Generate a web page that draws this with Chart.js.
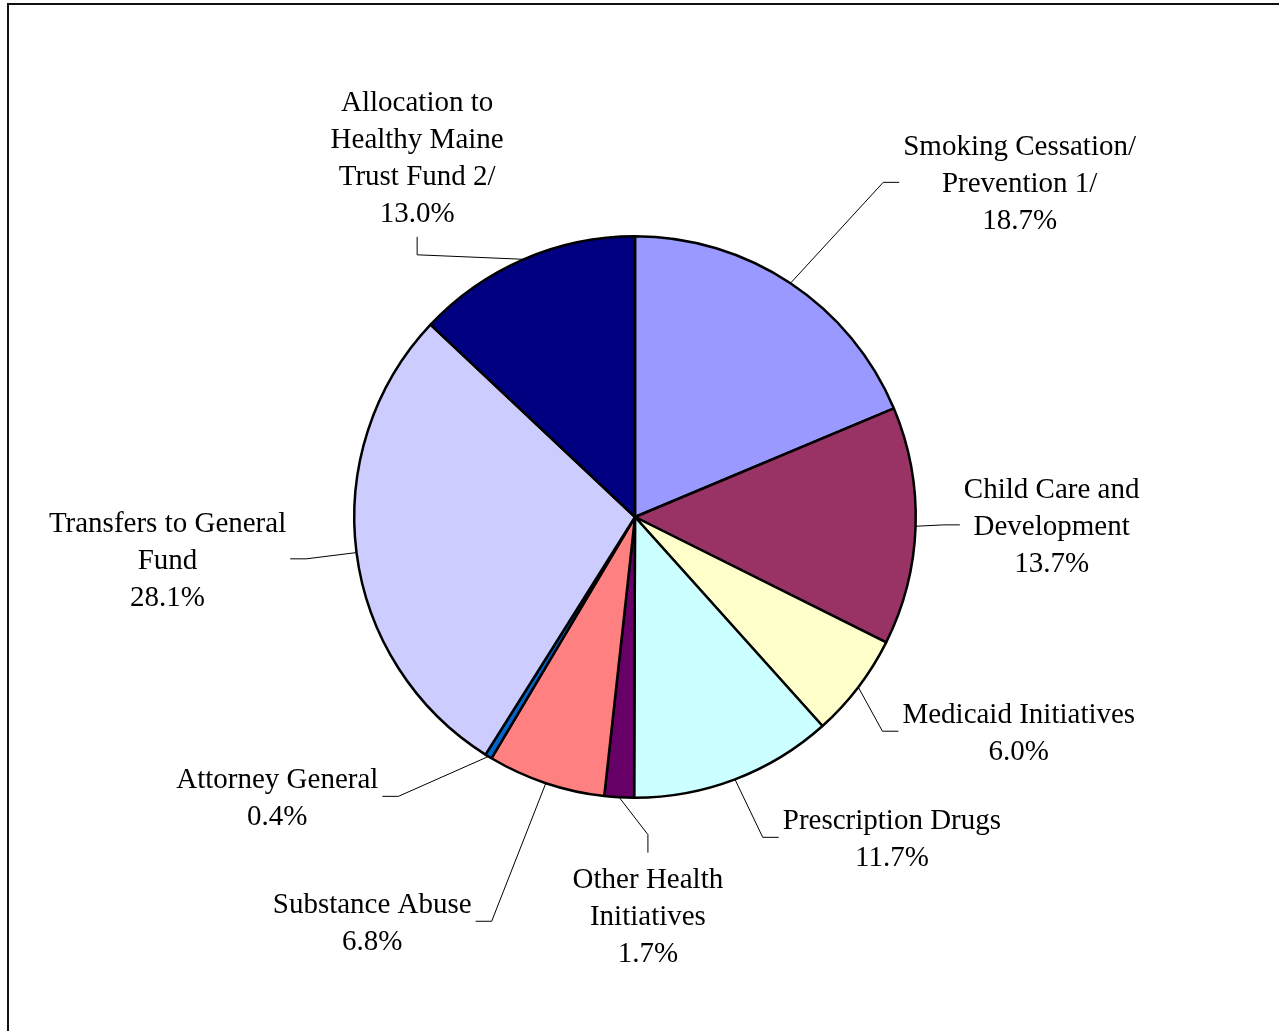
<!DOCTYPE html>
<html>
<head>
<meta charset="utf-8">
<script src="https://cdn.jsdelivr.net/npm/chart.js@4.4.0/dist/chart.umd.min.js"></script>
<style>
  html, body { margin: 0; padding: 0; background: #fff; overflow: hidden; }
  #wrap { position: relative; width: 1279px; height: 1031px; }
  #frame { position: absolute; left: 7px; top: 3px; width: 1400px; height: 1200px;
           border-left: 2px solid #111; border-top: 2px solid #111; pointer-events: none; }
  canvas { position: absolute; left: 0; top: 0; }
</style>
</head>
<body>
<div id="wrap">
  <canvas id="pieChart" width="1279" height="1031"></canvas>
  <div id="frame"></div>
</div>
<script>
// slices, clockwise from 12 o'clock
const categories = [
  ["Smoking Cessation/", "Prevention 1/"],
  ["Child Care and", "Development"],
  ["Medicaid Initiatives"],
  ["Prescription Drugs"],
  ["Other Health", "Initiatives"],
  ["Substance Abuse"],
  ["Attorney General"],
  ["Transfers to General", "Fund"],
  ["Allocation to", "Healthy Maine", "Trust Fund 2/"]
];
const shares = [18.7, 13.7, 6.0, 11.7, 1.7, 6.8, 0.4, 28.1, 13.0];
const sliceColors = ["#9999FF", "#993366", "#FFFFCC", "#CCFFFF", "#660066",
                     "#FF8080", "#0066CC", "#CCCCFF", "#000080"];

// label block centre, in pie radii from the pie centre, and which side the leader meets
const labelPos = [
  [1.370, -1.192, "left"],
  [1.484, 0.028, "left"],
  [1.367, 0.763, "left"],
  [0.915, 1.141, "left"],
  [0.046, 1.418, "top"],
  [-0.936, 1.440, "right"],
  [-1.274, 0.995, "right"],
  [-1.665, 0.149, "right"],
  [-0.776, -1.283, "bottom"]
];

const FONT = "29px 'Liberation Serif', 'Times New Roman', serif";
const LINE_H = 37;

const labelPlugin = {
  id: "outsideLabels",
  afterDraw(chart) {
    const c = chart.ctx;
    const arcs = chart.getDatasetMeta(0).data;
    c.save();
    c.font = FONT;
    c.fillStyle = "#000";
    c.strokeStyle = "#000";
    c.lineWidth = 1;
    c.textAlign = "center";
    c.textBaseline = "middle";

    arcs.forEach((arc, i) => {
      const p = arc.getProps(["x", "y", "startAngle", "endAngle", "outerRadius"], true);
      const R = p.outerRadius;
      const mid = (p.startAngle + p.endAngle) / 2;
      const ax = p.x + R * Math.cos(mid);
      const ay = p.y + R * Math.sin(mid);

      const lines = categories[i].concat([shares[i].toFixed(1) + "%"]);
      const bx = p.x + labelPos[i][0] * R;
      const by = p.y + labelPos[i][1] * R;
      const w = Math.max(...lines.map(t => c.measureText(t).width));
      const h = lines.length * LINE_H;
      const top = by - h / 2;

      lines.forEach((t, k) => c.fillText(t, bx, top + LINE_H * (k + 0.5) + 2.5));

      // leader line: arc midpoint -> elbow -> label
      let ex, ey, tx, ty;
      const side = labelPos[i][2];
      if (side === "left") { tx = bx - w / 2 - 4; ty = by; ex = tx - 16; ey = ty; }
      if (side === "right") { tx = bx + w / 2 + 4; ty = by; ex = tx + 16; ey = ty; }
      if (side === "top") { tx = bx; ty = top - 7; ex = tx; ey = ty - 18; }
      if (side === "bottom") { tx = bx; ty = top + h + 6; ex = tx; ey = ty + 18; }
      c.beginPath();
      c.moveTo(ax, ay);
      c.lineTo(ex, ey);
      c.lineTo(tx, ty);
      c.stroke();
    });
    c.restore();
  }
};

new Chart(document.getElementById("pieChart"), {
  type: "pie",
  data: {
    labels: categories.map(l => l.join(" ")),
    datasets: [{
      data: shares,
      backgroundColor: sliceColors,
      borderColor: "#000",
      borderWidth: 2.5
    }]
  },
  options: {
    responsive: false,
    animation: false,
    layout: { padding: { left: 353, right: 362, top: 235, bottom: 232 } },
    plugins: {
      legend: { display: false },
      tooltip: { enabled: false }
    }
  },
  plugins: [labelPlugin]
});
</script>
</body>
</html>
